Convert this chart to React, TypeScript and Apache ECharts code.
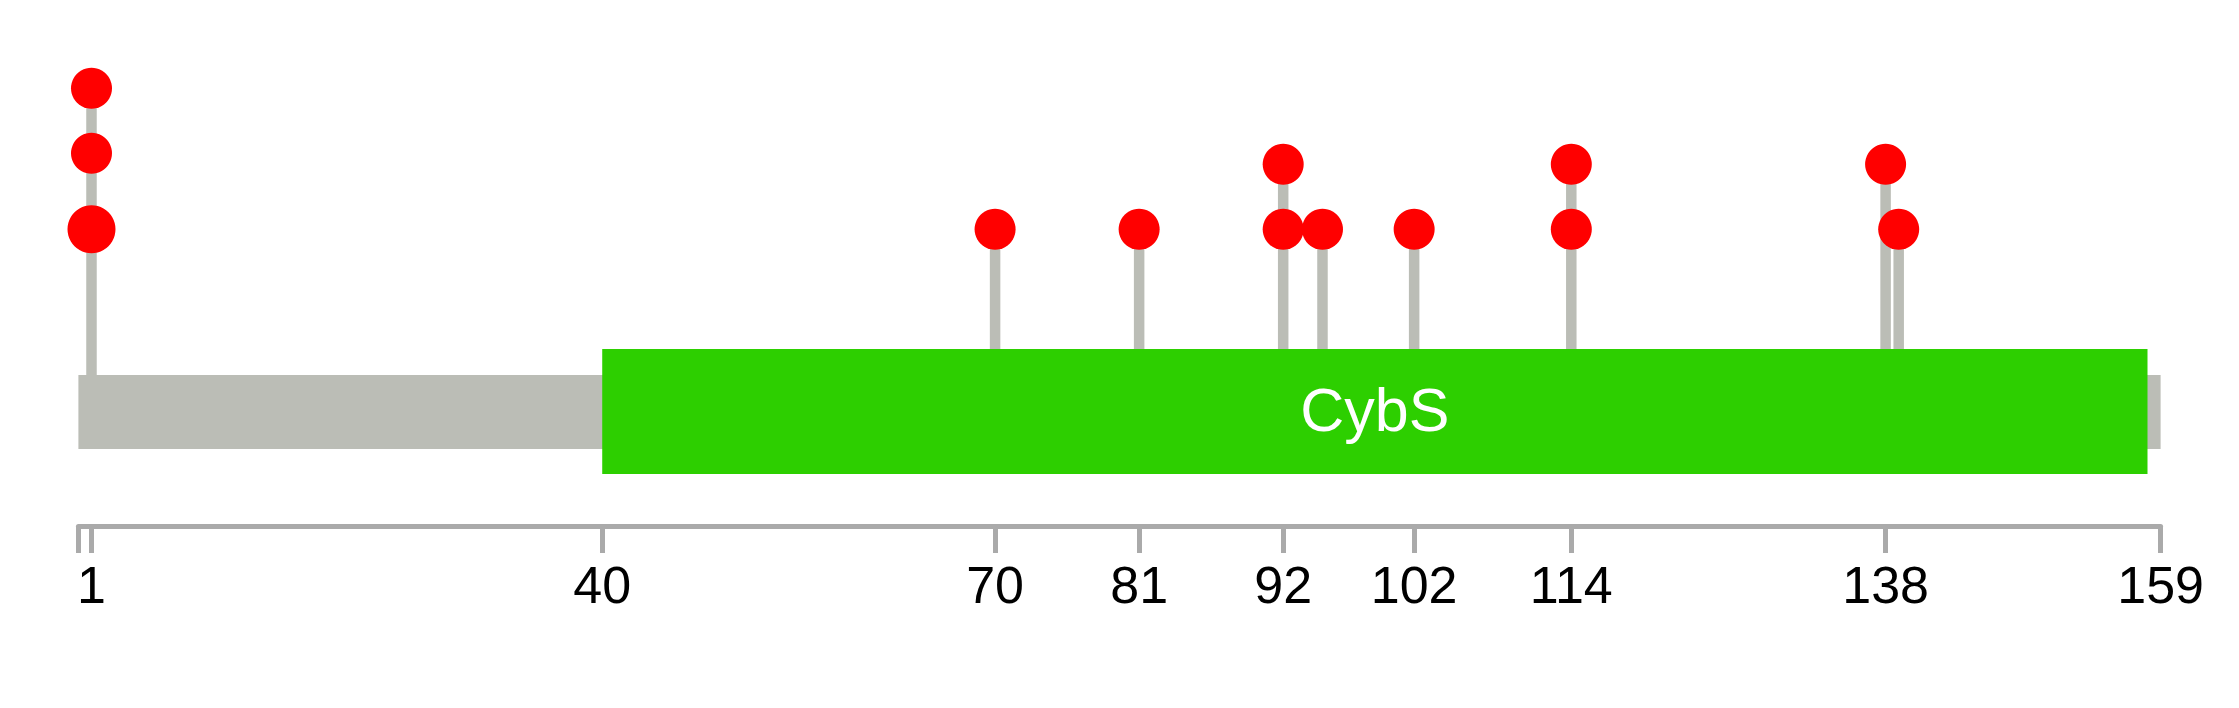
import React, { useEffect, useRef } from "react";
import * as echarts from "echarts";

// ---- data ----
const proteinLength = 159;
const domainNames = ["CybS"];
const domainStarts = [40];
const domainEnds = [158];

// each circle: residue position, stack level, mutation count (drives size)
const circlePositions = [1, 1, 1, 70, 81, 92, 92, 95, 102, 114, 114, 138, 139];
const circleLevels = [1, 2.17, 3.17, 1, 1, 1, 2, 1, 1, 1, 2, 2, 1];
const circleCounts = [2, 1, 1, 1, 1, 1, 1, 1, 1, 1, 1, 1, 1];

const tickValues = [0, 1, 40, 70, 81, 92, 102, 114, 138, 159];
const tickLabels = [1, 40, 70, 81, 92, 102, 114, 138, 159];

// ---- styles ----
const FONT = "'Liberation Sans', Arial, sans-serif";
const GREY = "#bbbdb6";
const AXIS_GREY = "#aaaaaa";
const RED = "#ff0000";
const GREEN = "#2dcf00";

export default function App() {
  const ref = useRef<HTMLDivElement>(null);

  useEffect(() => {
    if (!ref.current) return;
    const chart = echarts.init(ref.current, null, { renderer: "svg" });

    // stems: one per distinct position, up to its highest circle
    const stemMap: Record<number, number> = {};
    circlePositions.forEach((p, i) => {
      stemMap[p] = Math.max(stemMap[p] ?? 0, circleLevels[i]);
    });
    const stemData = Object.keys(stemMap).map((k) => [Number(k), stemMap[Number(k)]]);

    const scatterData = circlePositions.map((p, i) => ({
      value: [p, circleLevels[i]],
      symbolSize: circleCounts[i] > 1 ? 48 : 41,
    }));

    const domainData = domainNames.map((n, i) => ({
      name: n,
      value: [domainStarts[i], domainEnds[i]],
    }));

    const BACKBONE_OFFSET = 117.7; // px below level 0
    const DOMAIN_OFFSET = 117.3;

    chart.setOption({
      animation: false,
      backgroundColor: "#ffffff",
      grid: { left: 78.4, right: 78.4, top: 34.3, height: 260 },
      xAxis: {
        type: "value",
        min: 0,
        max: proteinLength,
        offset: 231.7,
        axisLine: { show: true, onZero: false, lineStyle: { color: AXIS_GREY, width: 5 } },
        axisTick: {
          show: true,
          customValues: tickValues,
          length: 27,
          lineStyle: { color: AXIS_GREY, width: 5 },
        },
        axisLabel: {
          show: true,
          customValues: tickLabels,
          fontSize: 52,
          fontFamily: FONT,
          color: "#000000",
          margin: 33,
        },
        splitLine: { show: false },
      },
      yAxis: { type: "value", min: 0, max: 4, show: false },
      series: [
        {
          type: "custom",
          name: "stems",
          z: 1,
          silent: true,
          clip: false,
          data: stemData,
          renderItem: (params: any, api: any) => {
            const top = api.coord([api.value(0), api.value(1)]);
            const base = api.coord([api.value(0), 0]);
            return {
              type: "line",
              shape: { x1: top[0], y1: top[1], x2: top[0], y2: base[1] + BACKBONE_OFFSET },
              style: { stroke: GREY, lineWidth: 10.5 },
            };
          },
        },
        {
          type: "custom",
          name: "backbone",
          z: 2,
          silent: true,
          clip: false,
          data: [[0, proteinLength]],
          renderItem: (params: any, api: any) => {
            const a = api.coord([api.value(0), 0]);
            const b = api.coord([api.value(1), 0]);
            const h = 74;
            return {
              type: "rect",
              shape: { x: a[0], y: a[1] + BACKBONE_OFFSET - h / 2, width: b[0] - a[0], height: h },
              style: { fill: GREY },
            };
          },
        },
        {
          type: "custom",
          name: "domains",
          z: 3,
          silent: true,
          clip: false,
          data: domainData,
          renderItem: (params: any, api: any) => {
            const a = api.coord([api.value(0), 0]);
            const b = api.coord([api.value(1), 0]);
            const h = 125;
            const cy = a[1] + DOMAIN_OFFSET;
            return {
              type: "group",
              children: [
                {
                  type: "rect",
                  shape: { x: a[0], y: cy - h / 2, width: b[0] - a[0], height: h },
                  style: { fill: GREEN },
                },
                {
                  type: "text",
                  x: (a[0] + b[0]) / 2,
                  y: cy - 1.5,
                  style: {
                    text: domainNames[params.dataIndex],
                    fill: "#ffffff",
                    fontSize: 61,
                    fontFamily: FONT,
                    align: "center",
                    verticalAlign: "middle",
                  },
                },
              ],
            };
          },
        },
        {
          type: "scatter",
          name: "mutations",
          z: 4,
          silent: true,
          clip: false,
          symbol: "circle",
          itemStyle: { color: RED, opacity: 1 },
          data: scatterData,
        },
      ],
    });

    return () => chart.dispose();
  }, []);

  return (
    <div
      ref={ref}
      style={{ position: "absolute", left: 0, top: 0, width: 2239, height: 708 }}
    />
  );
}
